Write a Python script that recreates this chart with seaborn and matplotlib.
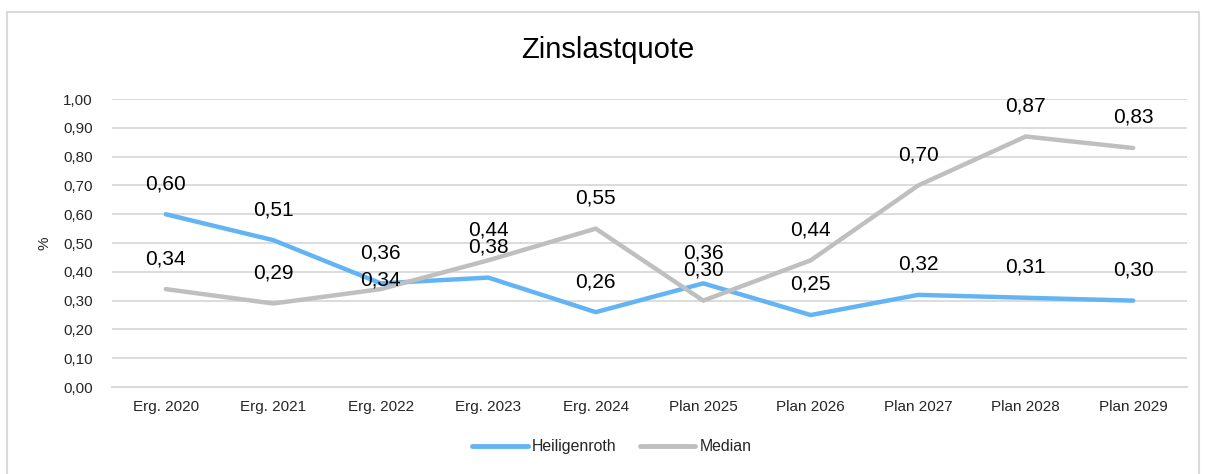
import pandas as pd
import matplotlib
matplotlib.use("Agg")
import matplotlib.pyplot as plt
import seaborn as sns
from matplotlib.patches import Rectangle

# =====================================================
# DATA
# =====================================================

jahre = ["Erg. 2020", "Erg. 2021", "Erg. 2022", "Erg. 2023", "Erg. 2024",
         "Plan 2025", "Plan 2026", "Plan 2027", "Plan 2028", "Plan 2029"]

heiligenroth = [0.60, 0.51, 0.36, 0.38, 0.26, 0.36, 0.25, 0.32, 0.31, 0.30]
median = [0.34, 0.29, 0.34, 0.44, 0.55, 0.30, 0.44, 0.70, 0.87, 0.83]

serien = ["Heiligenroth", "Median"]
farben = ["#63B4F5", "#BFBFBF"]

# =====================================================
# SETTINGS
# =====================================================

sns.set_theme(style="white")
plt.rcParams["font.family"] = ["Liberation Sans", "DejaVu Sans"]

df = pd.DataFrame({
    "Jahr": jahre * 2,
    "Wert": heiligenroth + median,
    "Serie": [serien[0]] * len(jahre) + [serien[1]] * len(jahre),
})

fig = plt.figure(figsize=(12.06, 4.74), dpi=100)
ax = fig.add_axes([0.0929, 0.1835, 0.8913, 0.6075])

fig.patches.append(Rectangle((7 / 1206, -0.1), 1192 / 1206, 1.1 - 12 / 474,
                             transform=fig.transFigure, fill=False,
                             edgecolor="#D9D9D9", linewidth=1.5))

sns.lineplot(
    data=df,
    x="Jahr",
    y="Wert",
    hue="Serie",
    palette=farben,
    linewidth=3.2,
    sort=False,
    ax=ax,
)

# gridlines
ax.set_ylim(0, 1.0)
ax.set_xlim(-0.5, len(jahre) - 0.5)
ax.set_yticks([i / 10 for i in range(11)])
ax.set_yticklabels([f"{i / 10:.2f}".replace(".", ",") for i in range(11)],
                   fontsize=11, color="#262626")
ax.tick_params(axis="x", labelsize=11, colors="#262626", length=0, pad=9)
ax.tick_params(axis="y", length=0, pad=14)
ax.yaxis.grid(True, color="#D9D9D9", linewidth=1.3)
ax.set_axisbelow(True)
for s in ["top", "right", "left"]:
    ax.spines[s].set_visible(False)
ax.spines["bottom"].set_color("#D9D9D9")
ax.spines["bottom"].set_linewidth(1.5)

ax.set_xlabel("")
ax.set_ylabel("%", fontsize=11, color="#262626", labelpad=8)

# data labels
for i, v in enumerate(heiligenroth):
    ax.annotate(f"{v:.2f}".replace(".", ","), (i, v), xytext=(0, 22),
                textcoords="offset points", ha="center", va="center",
                fontsize=15, color="#000000")
for i, v in enumerate(median):
    off = 6.5 if i == 2 else 22
    ax.annotate(f"{v:.2f}".replace(".", ","), (i, v), xytext=(0, off),
                textcoords="offset points", ha="center", va="center",
                fontsize=15, color="#000000")

fig.text(0.504, 0.8945, "Zinslastquote", ha="center", va="center",
         fontsize=21, color="#000000")

leg = ax.legend(
    loc="center",
    bbox_to_anchor=(0.465, -0.208),
    ncol=2,
    frameon=False,
    fontsize=11.4,
    handlelength=3.5,
    handletextpad=0.25,
    columnspacing=1.5,
)
for line in leg.get_lines():
    line.set_linewidth(3.5)
    line.set_solid_capstyle("round")

plt.savefig("out.png", dpi=100)
